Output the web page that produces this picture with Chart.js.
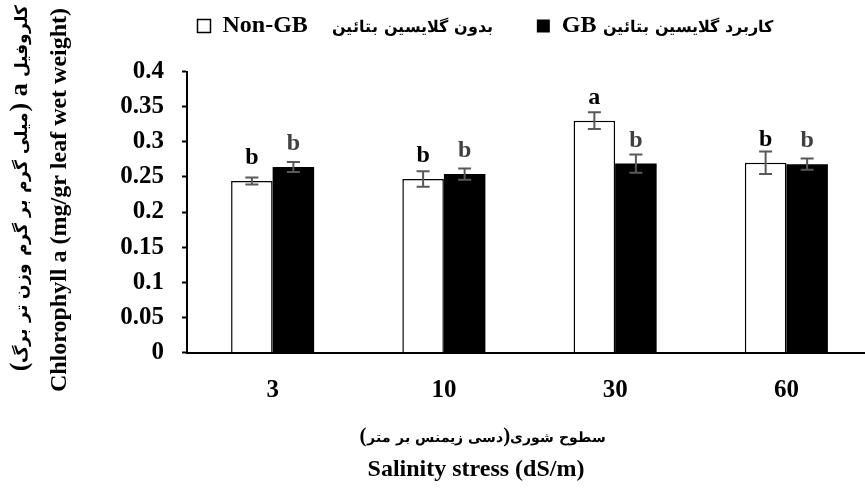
<!DOCTYPE html>
<html lang="fa">
<head>
<meta charset="UTF-8">
<title>Chlorophyll a</title>
<script src="https://cdn.jsdelivr.net/npm/chart.js@4.4.0/dist/chart.umd.min.js"></script>
<style>
  /* Persian glyphs only: DejaVu Sans Bold, scaled down so it sits next to the serif text */
  @font-face {
    font-family: 'FaText';
    src: local('DejaVu Sans Bold'), local('DejaVuSans-Bold');
    font-weight: bold;
    unicode-range: U+0600-06FF, U+FB50-FDFF, U+FE70-FEFF;
    size-adjust: 66%;
  }
  html, body { margin: 0; padding: 0; background: #fff; overflow: hidden; }
  #wrap { width: 875px; height: 488px; }
</style>
</head>
<body>
<div id="wrap"><canvas id="myChart" width="875" height="488"></canvas></div>
<script>
// salinity levels (dS/m)
const salinity = ['3', '10', '30', '60'];

// chlorophyll a, mg/gr leaf wet weight
const nonGB = [0.244, 0.247, 0.330, 0.270];
const nonGBErr = [0.005, 0.011, 0.012, 0.016];
const nonGBLetters = ['b', 'b', 'a', 'b'];

const withGB = [0.264, 0.254, 0.269, 0.268];
const withGBErr = [0.007, 0.008, 0.013, 0.008];
const withGBLetters = ['b', 'b', 'b', 'b'];

const yTicks = [0, 0.05, 0.1, 0.15, 0.2, 0.25, 0.3, 0.35, 0.4];

const nonGBLabel = 'Non-GB\u2003بدون گلایسین بتائین\u2003 ';
const withGBLabel = 'GB کاربرد گلایسین بتائین';
const yTitleFa = 'کلروفیل a (میلی گرم بر گرم وزن تر برگ)';
const yTitleEn = 'Chlorophyll a (mg/gr leaf wet weight)';
const xTitleFa = 'سطوح شوری(دسی زیمنس بر متر)';
const xTitleEn = 'Salinity stress (dS/m)';

const serif = "FaText, 'Liberation Serif', 'Times New Roman', serif";

// error bars + letters over the bars
const barExtras = {
    id: 'barExtras',
    afterDatasetsDraw(chart) {
        const ctx = chart.ctx;
        const y = chart.scales.y;
        ctx.save();
        chart.data.datasets.forEach((ds, i) => {
            chart.getDatasetMeta(i).data.forEach((bar, j) => {
                const top = y.getPixelForValue(ds.data[j] + ds.errors[j]);
                const bot = y.getPixelForValue(ds.data[j] - ds.errors[j]);
                ctx.strokeStyle = '#595959';
                ctx.lineWidth = 2;
                ctx.beginPath();
                ctx.moveTo(bar.x, top); ctx.lineTo(bar.x, bot);
                ctx.moveTo(bar.x - 6.5, top); ctx.lineTo(bar.x + 6.5, top);
                ctx.moveTo(bar.x - 6.5, bot); ctx.lineTo(bar.x + 6.5, bot);
                ctx.stroke();

                ctx.fillStyle = ds.letterColor;
                ctx.font = 'bold 24px ' + serif;
                ctx.textAlign = 'center';
                ctx.textBaseline = 'alphabetic';
                ctx.fillText(ds.letters[j], bar.x, bar.y - 17);
            });
        });
        ctx.restore();
    },
    afterDraw(chart) {
        const ctx = chart.ctx;
        ctx.save();
        ctx.fillStyle = '#000';
        ctx.textAlign = 'center';
        ctx.textBaseline = 'middle';

        // y titles (rotated)
        ctx.save();
        ctx.translate(20, 188);
        ctx.rotate(-Math.PI / 2);
        ctx.direction = 'rtl';
        ctx.font = 'bold 26px ' + serif;
        ctx.fillText(yTitleFa, 0, 0);
        ctx.restore();

        ctx.save();
        ctx.translate(60, 200);
        ctx.rotate(-Math.PI / 2);
        ctx.font = 'bold 24px ' + serif;
        ctx.fillText(yTitleEn, 0, 0);
        ctx.restore();

        // x titles
        ctx.save();
        ctx.direction = 'rtl';
        ctx.font = 'bold 21px ' + serif;
        ctx.fillText(xTitleFa, 483, 437);
        ctx.restore();

        ctx.font = 'bold 24px ' + serif;
        ctx.fillText(xTitleEn, 476, 470);
        ctx.restore();
    }
};

// more room under the legend
const legendSpace = {
    id: 'legendSpace',
    beforeInit(chart) {
        const fit = chart.legend.fit;
        chart.legend.fit = function () {
            fit.call(this);
            this.height = 71.5;
        };
    }
};

const config = {
    type: 'bar',
    data: {
        labels: salinity,
        datasets: [{
            label: nonGBLabel,
            data: nonGB,
            errors: nonGBErr,
            letters: nonGBLetters,
            letterColor: '#000',
            backgroundColor: '#fff',
            borderColor: '#000',
            borderWidth: 1.5
        }, {
            label: withGBLabel,
            data: withGB,
            errors: withGBErr,
            letters: withGBLetters,
            letterColor: '#404040',
            backgroundColor: '#000',
            borderColor: '#000',
            borderWidth: 0
        }]
    },
    options: {
        responsive: false,
        animation: false,
        layout: { padding: { left: 98, right: 3, top: 0, bottom: 0 } },
        datasets: { bar: { barPercentage: 1, categoryPercentage: 0.485 } },
        scales: {
            x: {
                afterFit: s => { s.height = 135.5; },
                border: { color: '#000', width: 2 },
                grid: { display: false },
                ticks: { color: '#000', padding: 15, font: { family: serif, size: 25, weight: 'bold' } }
            },
            y: {
                min: 0,
                max: 0.4,
                afterBuildTicks: s => { s.ticks = yTicks.map(v => ({ value: v })); },
                afterFit: s => { s.width = 89; },
                border: { color: '#000', width: 2 },
                grid: { drawOnChartArea: false, tickLength: 5, tickColor: '#000', tickWidth: 2 },
                ticks: {
                    color: '#000',
                    padding: 18,
                    font: { family: serif, size: 25, weight: 'bold' },
                    callback: v => String(+v.toFixed(2))
                }
            }
        },
        plugins: {
            legend: {
                position: 'top',
                labels: {
                    boxWidth: 13,
                    boxHeight: 13,
                    padding: 14,
                    color: '#000',
                    font: { family: serif, size: 24, weight: 'bold' }
                }
            },
            tooltip: { enabled: false }
        }
    },
    plugins: [barExtras, legendSpace]
};

document.fonts.load('bold 24px FaText', 'بدون').finally(() => {
    new Chart(document.getElementById('myChart'), config);
});
</script>
</body>
</html>
